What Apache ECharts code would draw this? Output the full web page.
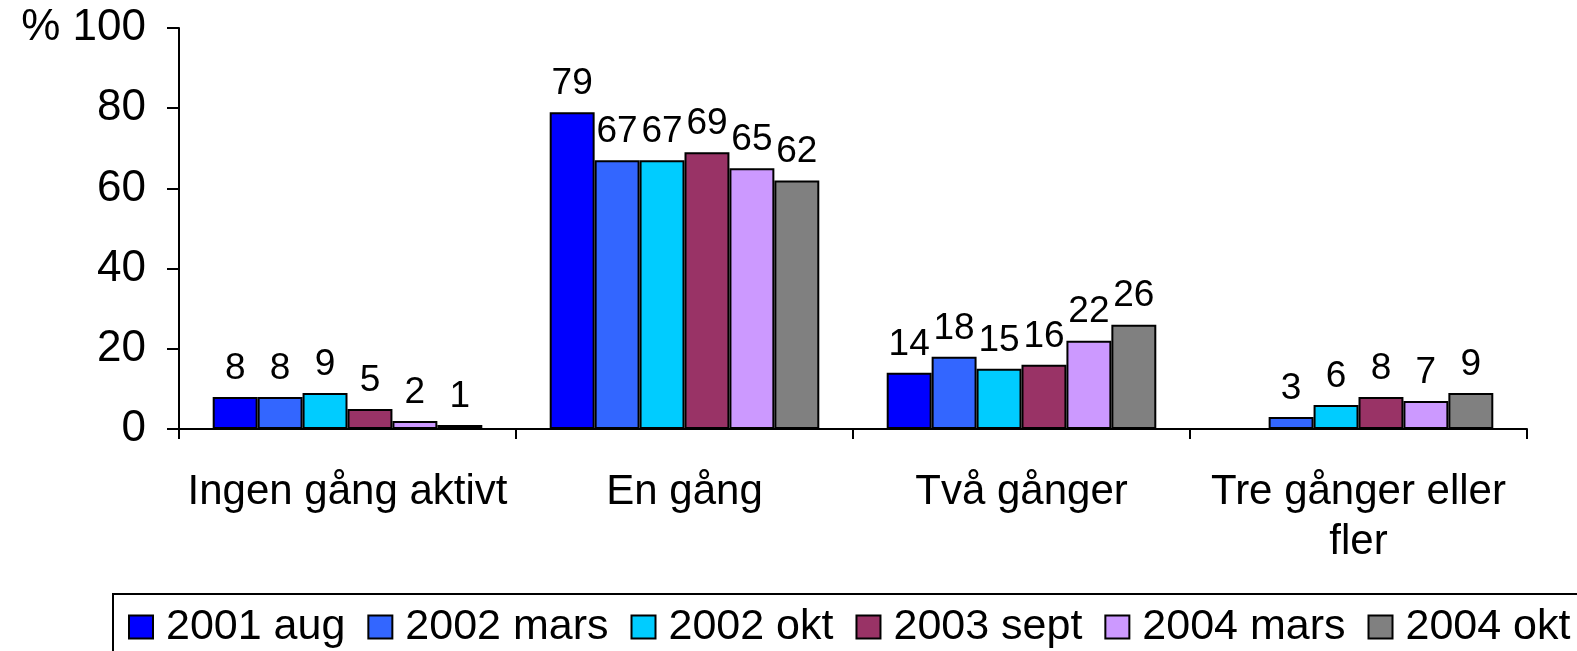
<!DOCTYPE html>
<html lang="sv">
<head>
    <meta charset="UTF-8">
    <title>Chart</title>
    <script src="https://cdn.jsdelivr.net/npm/echarts@6/dist/echarts.min.js"></script>
    <style>
        * { margin: 0; padding: 0 }
        html, body { height: 100%; background: #fff; }
    </style>
</head>
<body>
    <div id="main" style="width:1577px;height:651px"></div>
    <script>
        var categories = ['Ingen gång aktivt', 'En gång', 'Två gånger', 'Tre gånger eller\nfler'];
        var seriesNames = ['2001 aug', '2002 mars', '2002 okt', '2003 sept', '2004 mars', '2004 okt'];
        var aug2001 = [8, 79, 14, null];
        var mars2002 = [8, 67, 18, 3];
        var okt2002 = [9, 67, 15, 6];
        var sept2003 = [5, 69, 16, 8];
        var mars2004 = [2, 65, 22, 7];
        var okt2004 = [1, 62, 26, 9];
        var colors = ['#0000ff', '#3366ff', '#00ccff', '#993366', '#cc99ff', '#808080'];

        var values = [aug2001, mars2002, okt2002, sept2003, mars2004, okt2004];
        var font = 'Liberation Sans, Arial, sans-serif';

        var series = seriesNames.map(function (name, i) {
            return {
                name: name,
                type: 'bar',
                data: values[i],
                barGap: '0%',
                barCategoryGap: '20%',
                itemStyle: { color: colors[i], borderColor: '#000', borderWidth: 2 },
                label: {
                    show: true,
                    position: 'top',
                    distance: 10,
                    color: '#000',
                    fontFamily: font,
                    fontSize: 37
                }
            };
        });

        echarts.init(document.getElementById('main')).setOption({
            animation: false,
            grid: { left: 179, right: 50, top: 28, bottom: 222 },
            legend: {
                data: seriesNames,
                left: 113,
                top: 594,
                width: 1700,
                padding: [10, 15, 20, 15],
                borderColor: '#000',
                borderWidth: 2,
                itemWidth: 24,
                itemHeight: 23,
                itemGap: 22,
                icon: 'rect',
                itemStyle: { borderColor: '#000', borderWidth: 2 },
                textStyle: { fontFamily: font, fontSize: 43, lineHeight: 46, color: '#000', padding: [0, 0, 0, 8] }
            },
            xAxis: {
                type: 'category',
                data: categories,
                axisLine: { lineStyle: { color: '#000', width: 2 } },
                axisTick: { show: true, interval: 0, length: 10, lineStyle: { color: '#000', width: 2 } },
                axisLabel: {
                    interval: 0,
                    margin: 38,
                    color: '#000',
                    fontFamily: font,
                    fontSize: 42,
                    lineHeight: 50
                }
            },
            yAxis: {
                type: 'value',
                min: 0,
                max: 100,
                interval: 20,
                axisLine: { show: true, lineStyle: { color: '#000', width: 2 } },
                axisTick: { show: true, length: 12, lineStyle: { color: '#000', width: 2 } },
                splitLine: { show: false },
                axisLabel: {
                    margin: 33,
                    color: '#000',
                    fontFamily: font,
                    fontSize: 44,
                    formatter: function (v) { return v === 100 ? '% 100' : v; }
                }
            },
            series: series
        });
    </script>
</body>
</html>
